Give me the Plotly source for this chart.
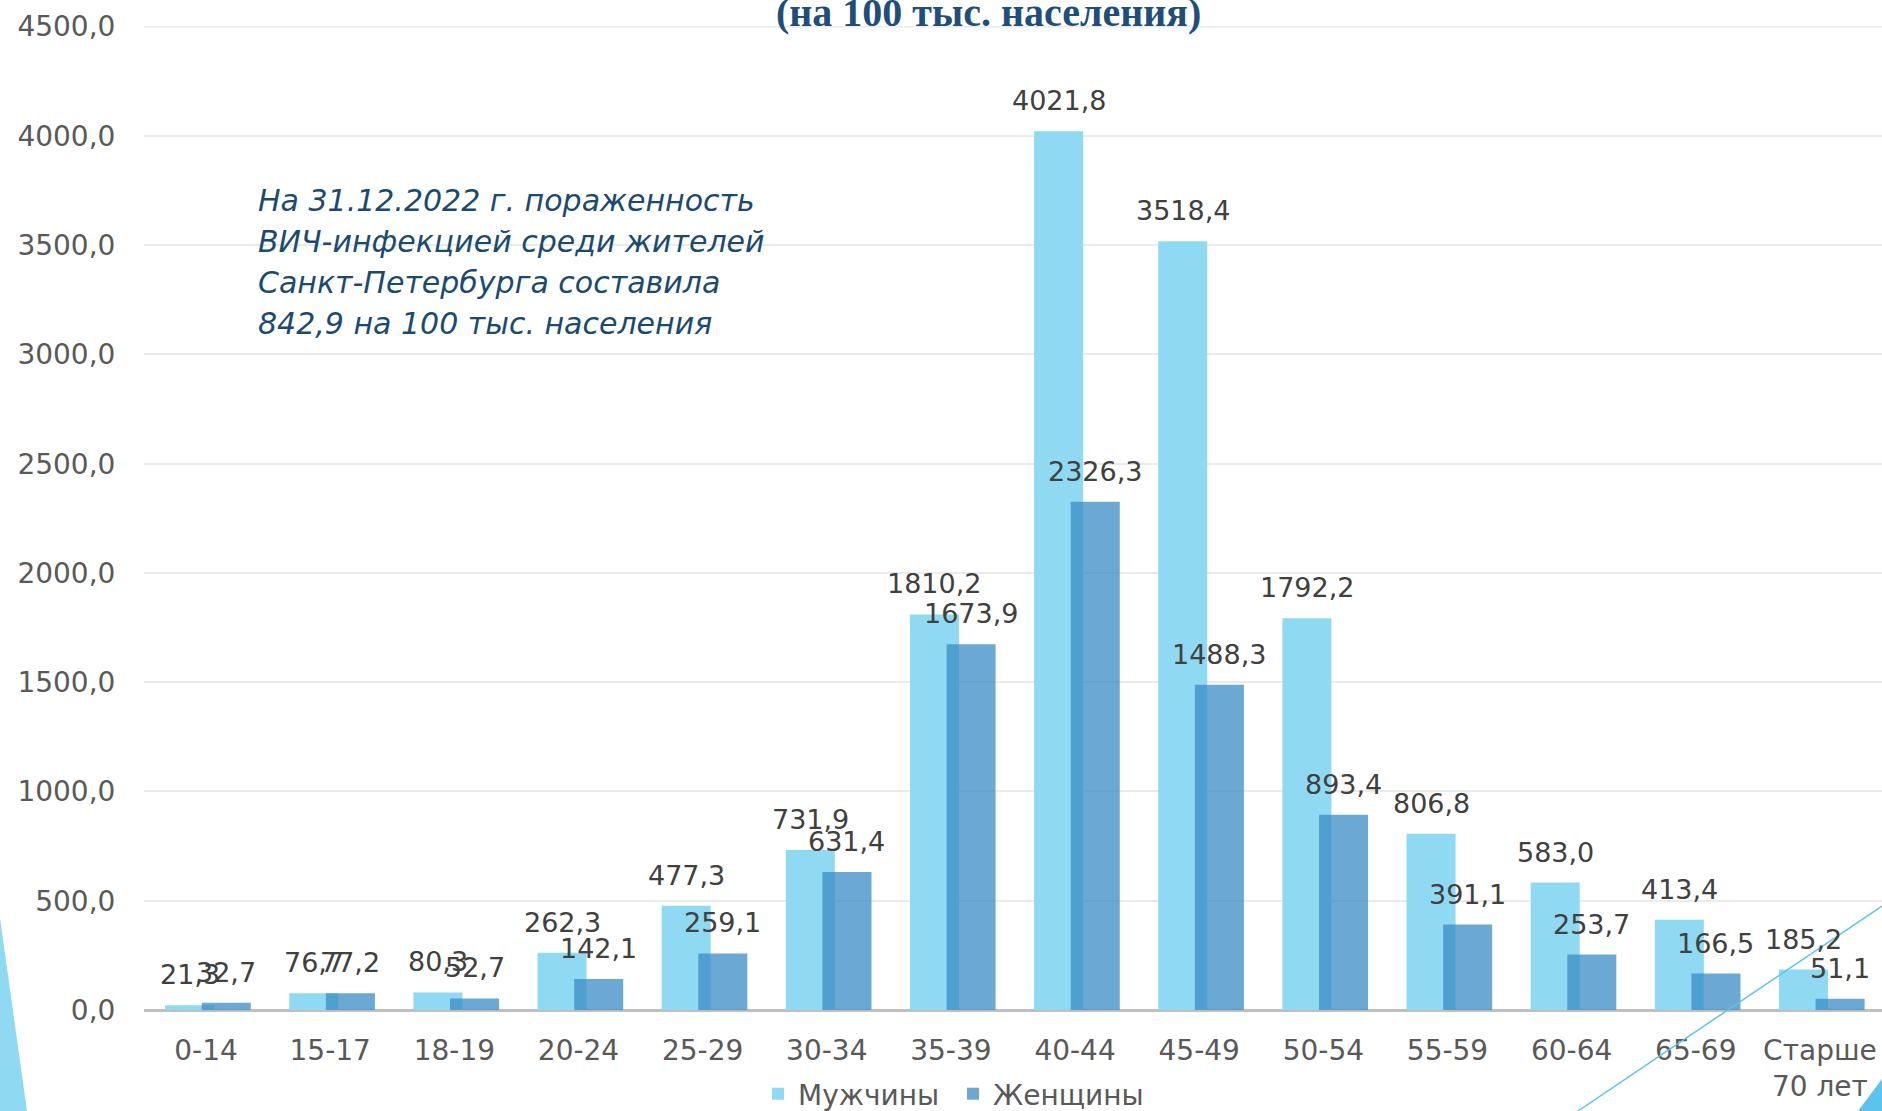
import plotly.graph_objects as go

# ---- data ----
categories = ["0-14", "15-17", "18-19", "20-24", "25-29", "30-34", "35-39",
              "40-44", "45-49", "50-54", "55-59", "60-64", "65-69", "Старше<br>70 лет"]
men = [21.3, 76.7, 80.3, 262.3, 477.3, 731.9, 1810.2, 4021.8, 3518.4, 1792.2,
       806.8, 583.0, 413.4, 185.2]
women = [32.7, 77.2, 52.7, 142.1, 259.1, 631.4, 1673.9, 2326.3, 1488.3, 893.4,
         391.1, 253.7, 166.5, 51.1]
series_names = ["Мужчины", "Женщины"]
y_ticks = [0, 500, 1000, 1500, 2000, 2500, 3000, 3500, 4000, 4500]
note_lines = ["На 31.12.2022 г. пораженность",
              "ВИЧ-инфекцией среди жителей",
              "Санкт-Петербурга составила",
              "842,9 на 100 тыс. населения"]
title_text = "(на 100 тыс. населения)"

# ---- layout constants ----
W, H = 1882, 1111
ML, MR, MT, MB = 144, 0, 26, 101
PW, PH = W - ML - MR, H - MT - MB

def px(x):
    return (x - ML) / PW

def py(y):
    return (H - MB - y) / PH

MEN_COLOR = "#8FDAF2"
WOMEN_COLOR = "rgba(59,139,198,0.75)"
BAR_W = 0.395
MEN_OFF = -0.33
WOMEN_OFF = -0.035
LABEL_FONT = dict(family="DejaVu Sans", size=27, color="#404040")

fig = go.Figure()
fig.add_trace(go.Bar(x=categories, y=men, name=series_names[0],
                     marker=dict(color=MEN_COLOR, line=dict(width=0)),
                     width=BAR_W, offset=MEN_OFF))
fig.add_trace(go.Bar(x=categories, y=women, name=series_names[1],
                     marker=dict(color=WOMEN_COLOR, line=dict(width=0)),
                     width=BAR_W, offset=WOMEN_OFF))

annotations = []
for i, (m, w) in enumerate(zip(men, women)):
    for val, off in ((m, MEN_OFF), (w, WOMEN_OFF)):
        annotations.append(dict(
            x=i + off + BAR_W / 2, y=val, xref="x", yref="y",
            text=f"{val:.1f}".replace(".", ","), showarrow=False,
            yanchor="bottom", xanchor="center", yshift=13, font=LABEL_FONT))

for k, line in enumerate(note_lines):
    annotations.append(dict(
        x=px(256), y=py(200 + 41.3 * k), xref="paper", yref="paper",
        text=f"<i>{line}</i>", showarrow=False, xanchor="left", yanchor="middle",
        font=dict(family="DejaVu Sans", size=30, color="#1B4A70")))

annotations.append(dict(
    x=px(988), y=py(37), xref="paper", yref="paper", text=f"<b>{title_text}</b>",
    showarrow=False, xanchor="center", yanchor="bottom",
    font=dict(family="Liberation Serif", size=40, color="#1F4E79")))

shapes = [
    dict(type="path", xref="paper", yref="paper", layer="below",
         path=f"M {px(0)} {py(918)} L {px(27)} {py(1111)} L {px(0)} {py(1111)} Z",
         fillcolor="#8FDAF2", line=dict(width=0)),
    dict(type="line", xref="paper", yref="paper", layer="above",
         x0=px(1578), y0=py(1111), x1=px(1882), y1=py(906),
         line=dict(color="#5BC3EC", width=1.5)),
    dict(type="path", xref="paper", yref="paper", layer="above",
         path=f"M {px(1858)} {py(1111)} L {px(1882)} {py(1079)} L {px(1882)} {py(1111)} Z",
         fillcolor="#5BC3EC", line=dict(width=0)),
    dict(type="line", xref="paper", yref="y", layer="below",
         x0=0, x1=1, y0=y_ticks[-1], y1=y_ticks[-1],
         line=dict(color="#EBEBEB", width=1.5)),
]

fig.update_layout(
    width=W, height=H,
    margin=dict(l=ML, r=MR, t=MT, b=MB, pad=0, autoexpand=False),
    paper_bgcolor="white", plot_bgcolor="white",
    barmode="overlay",
    separators=", ",
    showlegend=True,
    legend=dict(orientation="h", x=px(953), y=py(1094), xanchor="center",
                yanchor="middle", font=dict(family="DejaVu Sans", size=28, color="#595959"),
                entrywidth=150, bgcolor="rgba(0,0,0,0)"),
    annotations=annotations,
    shapes=shapes,
    xaxis=dict(type="category", range=[-0.5, len(categories) - 0.5],
               automargin=False,
               showgrid=False, showline=False, ticks="outside", ticklen=15,
               tickcolor="rgba(0,0,0,0)",
               tickfont=dict(family="DejaVu Sans", size=28, color="#595959")),
    yaxis=dict(range=[0, 4503], tickvals=y_ticks, tickformat=".1f",
               automargin=False,
               showgrid=True, gridcolor="#EBEBEB", gridwidth=1.5,
               zeroline=True, zerolinecolor="#BFBFBF", zerolinewidth=3,
               showline=False, ticks="outside", ticklen=22,
               tickcolor="rgba(0,0,0,0)",
               tickfont=dict(family="DejaVu Sans", size=28, color="#595959")),
)

fig.write_html("out.html",
               config={"displayModeBar": False},
               post_script="document.body.style.margin='0';document.body.style.overflow='hidden';")
